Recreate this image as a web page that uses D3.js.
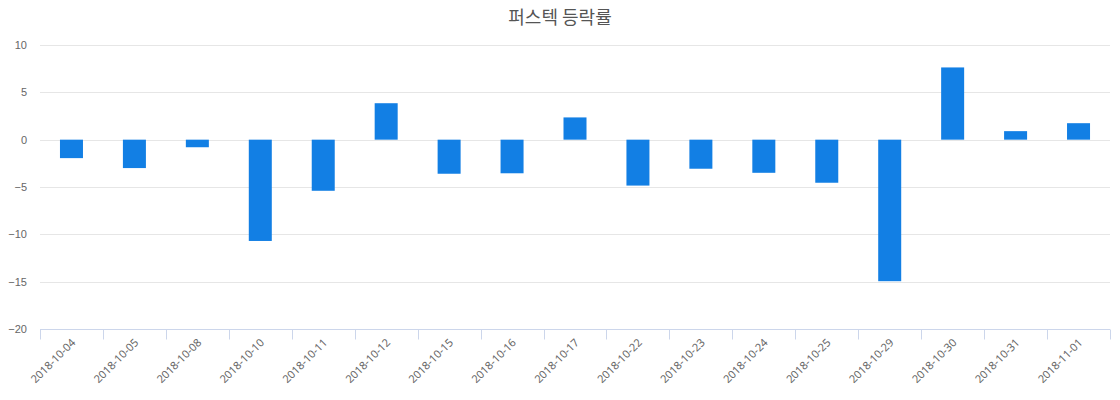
<!DOCTYPE html>
<html>
<head>
<meta charset="utf-8">
<script src="https://cdn.jsdelivr.net/npm/d3@7"></script>
<style>
  body { margin: 0; background: #fff; }
  svg { display: block; font-family: "Noto Sans", "Noto Sans CJK KR", sans-serif; }
</style>
</head>
<body>
<div id="chart"></div>
<script>
// données
const dates = ['2018-10-04', '2018-10-05', '2018-10-08', '2018-10-10', '2018-10-11', '2018-10-12',
  '2018-10-15', '2018-10-16', '2018-10-17', '2018-10-22', '2018-10-23', '2018-10-24',
  '2018-10-25', '2018-10-29', '2018-10-30', '2018-10-31', '2018-11-01'];
const rates = [-1.95, -3.0, -0.8, -10.7, -5.4, 3.85, -3.6, -3.55, 2.35, -4.85, -3.07, -3.5,
  -4.55, -14.95, 7.63, 0.9, 1.74];
const yTicks = [-20, -15, -10, -5, 0, 5, 10];
const title = '퍼스텍 등락률';

const width = 1120;
const height = 400;
const margin = { top: 45, right: 10, bottom: 71, left: 40 };

const svg = d3.select('#chart').append('svg')
  .attr('width', width)
  .attr('height', height);

svg.append('text')
  .attr('x', width / 2)
  .attr('y', 24)
  .attr('text-anchor', 'middle')
  .attr('fill', '#555')
  .style('font-family', '"Noto Sans CJK KR", sans-serif')
  .style('font-size', '18px')
  .text(title);

const x = d3.scaleBand()
  .domain(dates)
  .range([margin.left, width - margin.right])
  .paddingInner(0)
  .paddingOuter(0);

const y = d3.scaleLinear()
  .domain([-20, 10])
  .range([height - margin.bottom, margin.top]);

// grille
svg.append('g')
  .selectAll('line')
  .data(yTicks.filter(d => d !== -20))
  .enter()
  .append('line')
  .attr('x1', margin.left)
  .attr('x2', width - margin.right)
  .attr('y1', d => Math.round(y(d)) + 0.5)
  .attr('y2', d => Math.round(y(d)) + 0.5)
  .attr('stroke', '#e6e6e6');

// axe y
const yAxis = svg.append('g')
  .attr('transform', 'translate(' + (margin.left - 13) + ',0)')
  .call(d3.axisLeft(y).tickValues(yTicks).tickSize(0).tickPadding(0));
yAxis.select('.domain').remove();
yAxis.selectAll('text')
  .attr('fill', '#666')
  .style('font-size', '11px');

// barres
const barW = 23;
svg.append('g')
  .selectAll('rect')
  .data(rates)
  .enter()
  .append('rect')
  .attr('x', (d, i) => x(dates[i]) + x.bandwidth() / 2 - barW / 2)
  .attr('y', d => y(Math.max(0, d)))
  .attr('width', barW)
  .attr('height', d => Math.abs(y(d) - y(0)))
  .attr('fill', '#127fe4');

// axe x
const base = Math.round(y(-20)) + 0.5;
svg.append('line')
  .attr('x1', margin.left)
  .attr('x2', width - margin.right)
  .attr('y1', base)
  .attr('y2', base)
  .attr('stroke', '#ccd6eb');

svg.append('g')
  .selectAll('line')
  .data(dates.concat(['end']))
  .enter()
  .append('line')
  .attr('x1', (d, i) => Math.round(margin.left + i * x.bandwidth()) + 0.5)
  .attr('x2', (d, i) => Math.round(margin.left + i * x.bandwidth()) + 0.5)
  .attr('y1', base)
  .attr('y2', base + 10)
  .attr('stroke', '#ccd6eb');

svg.append('g')
  .selectAll('text')
  .data(dates)
  .enter()
  .append('text')
  .attr('transform', d => 'translate(' + (x(d) + x.bandwidth() / 2 + 2) + ',' + (base + 11) + ') rotate(-45)')
  .attr('text-anchor', 'end')
  .attr('dy', '0.35em')
  .attr('fill', '#666')
  .style('font-size', '11px')
  .text(d => d);
</script>
</body>
</html>
